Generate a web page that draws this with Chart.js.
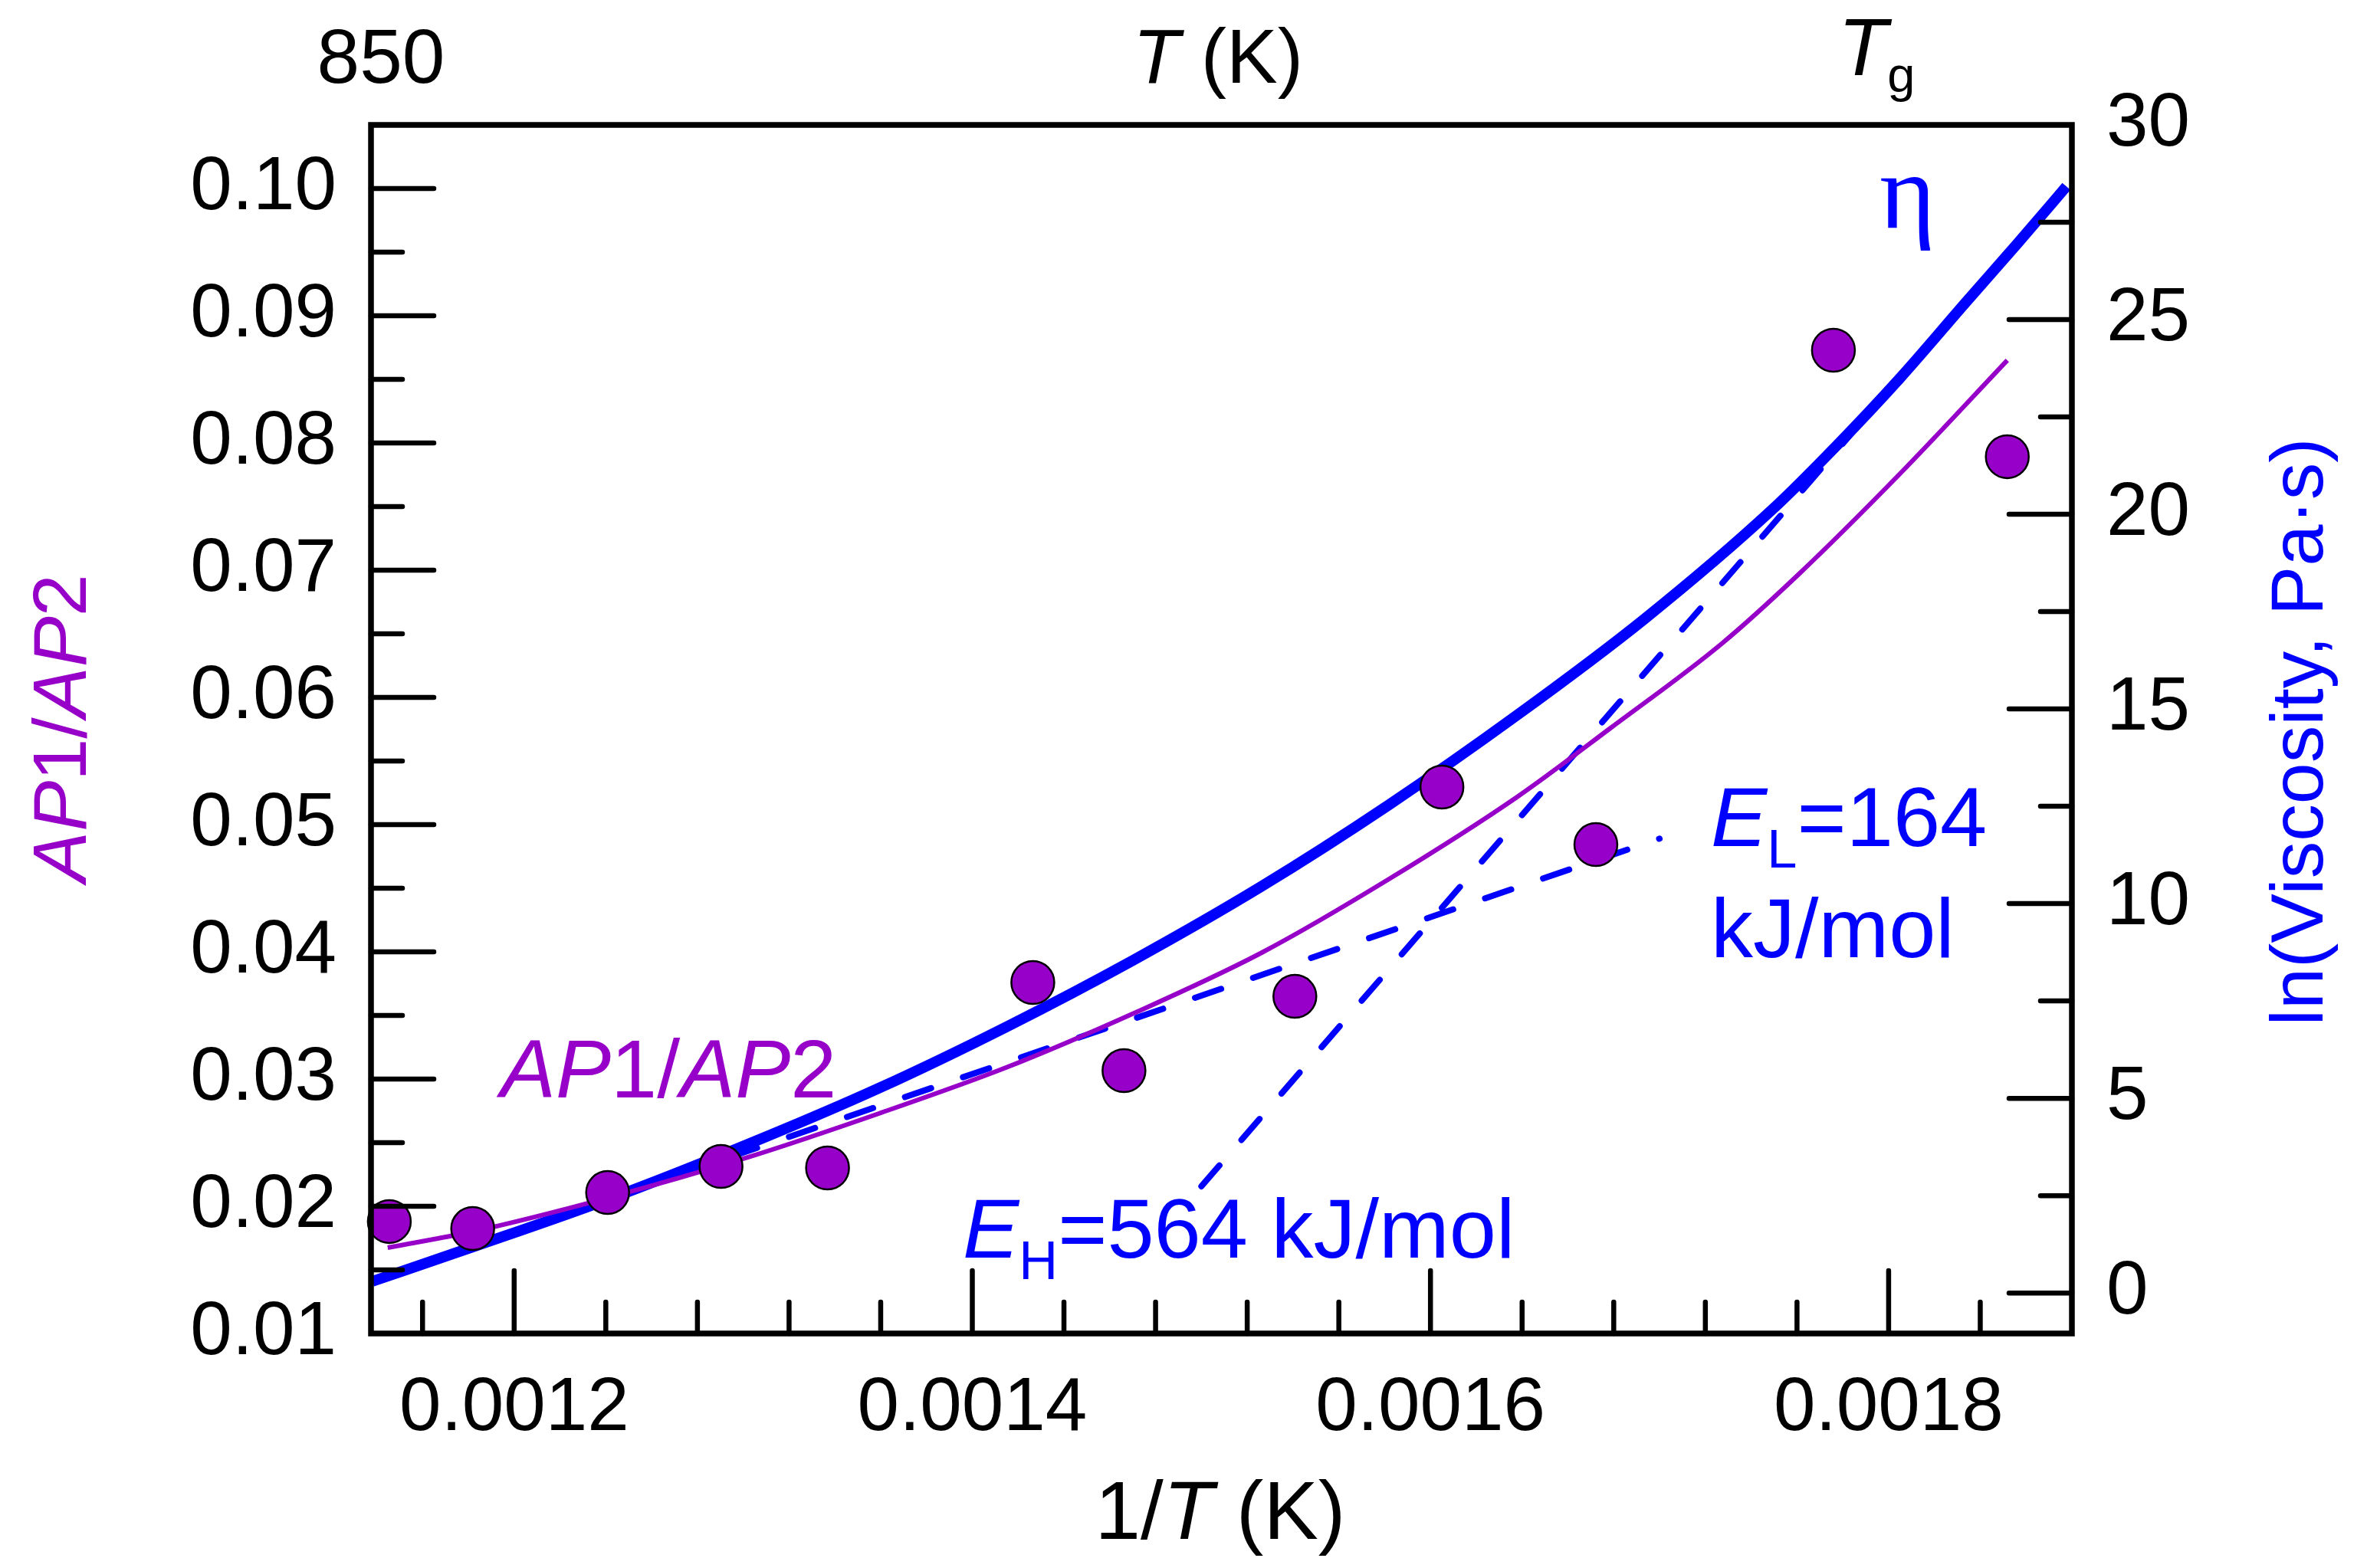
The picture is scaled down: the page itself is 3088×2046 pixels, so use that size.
<!DOCTYPE html>
<html>
<head>
<meta charset="utf-8">
<script src="https://cdn.jsdelivr.net/npm/chart.js@4.4.0/dist/chart.umd.min.js"></script>
<style>
  html, body { margin: 0; padding: 0; background: #fff; }
  canvas { display: block; }
</style>
</head>
<body>
<canvas id="chart" width="3088" height="2046"></canvas>
<script>
// measured points: 1/T and AP1/AP2 ratio
const invT = [0.0011455, 0.0011819, 0.0012408, 0.0012903, 0.0013368, 0.0014264,
              0.0014662, 0.0015408, 0.0016050, 0.0016722, 0.0017759, 0.0018518];
const apRatio = [0.0188, 0.01825, 0.02108, 0.02313, 0.02301, 0.03759,
                 0.03066, 0.0365, 0.05295, 0.04843, 0.08729, 0.07892];

// AP1/AP2 fit curve (left axis)
const apFitX = [0.0011448, 0.0011819, 0.0012408, 0.0013033, 0.0013592, 0.0014147, 0.0014706, 0.0015264,
                0.0015819, 0.0016378, 0.0016786, 0.0017271, 0.0017605, 0.0018050, 0.0018518];
const apFitY = [0.01675, 0.01801, 0.02066, 0.02392, 0.02729, 0.0309, 0.03518, 0.03994,
                0.04572, 0.05217, 0.05759, 0.06422, 0.06964, 0.07759, 0.0865];

// viscosity curve ln(eta) (right axis)
const etaFitX = [0.0011381, 0.0011819, 0.0012408, 0.0013033, 0.0013592, 0.0014147, 0.0014706, 0.0015264, 0.0015819,
                 0.0016378, 0.0016936, 0.0017492, 0.0017771, 0.0018050, 0.0018341, 0.0018562, 0.0018776];
const etaFitY = [0.30, 1.18, 2.40, 3.85, 5.26, 6.83, 8.56, 10.45, 12.54,
                 14.84, 17.32, 20.12, 21.75, 23.50, 25.47, 26.95, 28.42];

// Arrhenius lines
const eLowX = [0.00125, 0.0017];
const eLowY = [2.60, 11.67];
const eHighX = [0.0015, 0.001875];
const eHighY = [2.74, 28.29];

// axes
const xRange = [0.0011375, 0.00188];
const xStep = 0.0002, xMinor = 0.00004;
const apRange = [0.01, 0.105];
const apStep = 0.01, apMinor = 0.005;
const lnRange = [-1.04, 30];
const lnStep = 5, lnMinor = 2.5;

const PURPLE = "#9600c8";
const BLUE = "#0000ff";
const FONT = "'Liberation Sans', Arial, sans-serif";

function pairs(xs, ys) {
  return xs.map((x, i) => ({ x: x, y: ys[i] }));
}

// text made of pieces: [text, flags] with 'i' = italic, 's' = subscript
function drawRich(ctx, parts, x, y, size, color, align, subSize, subShift) {
  subSize = subSize || 0.64;
  subShift = subShift || 0.25;
  const fonts = parts.map(p => {
    const f = p[1] || "";
    const fs = f.includes("s") ? size * subSize : size;
    return (f.includes("i") ? "italic " : "") + fs + "px " + FONT;
  });
  let w = 0;
  parts.forEach((p, i) => { ctx.font = fonts[i]; w += ctx.measureText(p[0]).width; });
  let cx = align === "center" ? x - w / 2 : x;
  ctx.fillStyle = color;
  ctx.textAlign = "left";
  ctx.textBaseline = "alphabetic";
  parts.forEach((p, i) => {
    ctx.font = fonts[i];
    const dy = (p[1] || "").includes("s") ? size * subShift : 0;
    ctx.fillText(p[0], cx, y + dy);
    cx += ctx.measureText(p[0]).width;
  });
}

function eachTick(min, max, minor, major, fn) {
  const k0 = Math.ceil(min / minor - 1e-6);
  for (let k = k0; k * minor <= max + 1e-9; k++) {
    const v = k * minor;
    const r = v / major;
    fn(v, Math.abs(r - Math.round(r)) < 1e-6);
  }
}

const frameTicks = {
  id: "frameTicks",
  afterDatasetsDraw(chart) {
    const { ctx, chartArea: a, scales } = chart;
    const MAJ = 82, MIN = 41;
    ctx.save();
    ctx.strokeStyle = "#000";
    ctx.lineWidth = 6.5;
    ctx.lineCap = "round";
    ctx.beginPath();
    eachTick(xRange[0], xRange[1], xMinor, xStep, (v, big) => {
      const px = scales.x.getPixelForValue(v);
      if (px < a.left + 4 || px > a.right - 4) return;
      ctx.moveTo(px, a.bottom);
      ctx.lineTo(px, a.bottom - (big ? MAJ : MIN));
    });
    eachTick(apRange[0], apRange[1], apMinor, apStep, (v, big) => {
      const py = scales.y.getPixelForValue(v);
      if (py < a.top + 4 || py > a.bottom - 4) return;
      ctx.moveTo(a.left, py);
      ctx.lineTo(a.left + (big ? MAJ : MIN), py);
    });
    eachTick(lnRange[0], lnRange[1], lnMinor, lnStep, (v, big) => {
      const py = scales.y2.getPixelForValue(v);
      if (py < a.top + 4 || py > a.bottom - 4) return;
      ctx.moveTo(a.right, py);
      ctx.lineTo(a.right - (big ? MAJ : MIN), py);
    });
    ctx.stroke();
    ctx.lineWidth = 7.5;
    ctx.lineCap = "square";
    ctx.strokeRect(a.left, a.top, a.right - a.left, a.bottom - a.top);
    ctx.restore();
  }
};

const labels = {
  id: "labels",
  afterDraw(chart) {
    const ctx = chart.ctx;
    ctx.save();
    // top
    drawRich(ctx, [["850"]], 497, 108, 100, "#000", "center");
    drawRich(ctx, [["T", "i"], [" (K)"]], 1589, 108, 100, "#000", "center");
    drawRich(ctx, [["T", "i"], ["g", "s"]], 2398, 98, 105, "#000", "left", 0.62, 0.21);
    // bottom title
    drawRich(ctx, [["1/"], ["T", "i"], [" (K)"]], 1592, 2008, 107, "#000", "center");
    // in-plot notes
    drawRich(ctx, [["A", "i"], ["P", "i"], ["1/"], ["A", "i"], ["P", "i"], ["2"]], 653, 1432, 108, PURPLE, "left");
    drawRich(ctx, [["E", "i"], ["L", "s"], ["=164"]], 2232, 1104, 110, BLUE, "left");
    drawRich(ctx, [["kJ/mol"]], 2232, 1249, 110, BLUE, "left");
    drawRich(ctx, [["E", "i"], ["H", "s"], ["=564 kJ/mol"]], 1256, 1641, 110, BLUE, "left");
    ctx.font = "140px 'Liberation Serif', 'DejaVu Serif', serif";
    ctx.fillStyle = BLUE;
    ctx.textAlign = "left";
    ctx.fillText("\u03b7", 2452, 297);
    // rotated axis titles
    ctx.save();
    ctx.translate(112, 950);
    ctx.rotate(-Math.PI / 2);
    drawRich(ctx, [["A", "i"], ["P", "i"], ["1/"], ["A", "i"], ["P", "i"], ["2"]], 0, 0, 99, PURPLE, "center");
    ctx.restore();
    ctx.save();
    ctx.translate(3030, 955);
    ctx.rotate(-Math.PI / 2);
    drawRich(ctx, [["ln(Viscosity, Pa\u00b7s)"]], 0, 0, 97, BLUE, "center");
    ctx.restore();
    ctx.restore();
  }
};

const tickFont = { family: FONT, size: 98 };

new Chart(document.getElementById("chart"), {
  type: "scatter",
  data: {
    datasets: [
      {
        label: "AP1/AP2",
        data: pairs(invT, apRatio),
        yAxisID: "y",
        pointRadius: 28,
        pointHoverRadius: 28,
        pointBackgroundColor: PURPLE,
        pointBorderColor: "#000",
        pointBorderWidth: 2.5,
        clip: false,
        order: 0
      },
      {
        label: "AP1/AP2 fit",
        data: pairs(apFitX, apFitY),
        yAxisID: "y",
        showLine: true,
        borderColor: PURPLE,
        borderWidth: 6,
        pointRadius: 0,
        cubicInterpolationMode: "monotone",
        order: 1
      },
      {
        label: "eta",
        data: pairs(etaFitX, etaFitY),
        yAxisID: "y2",
        showLine: true,
        borderColor: BLUE,
        borderWidth: 14,
        pointRadius: 0,
        cubicInterpolationMode: "monotone",
        order: 2
      },
      {
        label: "E_L",
        data: pairs(eLowX, eLowY),
        yAxisID: "y2",
        showLine: true,
        borderColor: BLUE,
        borderWidth: 8,
        borderDash: [36, 44],
        borderDashOffset: 19,
        borderCapStyle: "round",
        pointRadius: 0,
        order: 3
      },
      {
        label: "E_H",
        data: pairs(eHighX, eHighY),
        yAxisID: "y2",
        showLine: true,
        borderColor: BLUE,
        borderWidth: 8,
        borderDash: [36, 44],
        borderCapStyle: "round",
        pointRadius: 0,
        order: 3
      }
    ]
  },
  options: {
    responsive: false,
    animation: false,
    devicePixelRatio: 1,
    events: [],
    layout: { padding: { top: 163, left: 0, right: 0, bottom: 0 } },
    plugins: { legend: { display: false }, tooltip: { enabled: false } },
    scales: {
      x: {
        type: "linear",
        position: "bottom",
        min: xRange[0],
        max: xRange[1],
        grid: { display: false, drawTicks: false },
        border: { display: false },
        ticks: {
          stepSize: xStep,
          includeBounds: false,
          autoSkip: false,
          maxRotation: 0,
          padding: 40,
          color: "#000",
          font: tickFont,
          callback: v => v.toFixed(4)
        },
        afterFit: s => { s.height = 306; }
      },
      y: {
        type: "linear",
        position: "left",
        min: apRange[0],
        max: apRange[1],
        grid: { display: false, drawTicks: false },
        border: { display: false },
        ticks: {
          stepSize: apStep,
          includeBounds: false,
          padding: 45,
          color: "#000",
          font: tickFont,
          callback: v => v.toFixed(2)
        },
        afterFit: s => { s.width = 484; }
      },
      y2: {
        type: "linear",
        position: "right",
        min: lnRange[0],
        max: lnRange[1],
        grid: { display: false, drawTicks: false },
        border: { display: false },
        ticks: {
          stepSize: lnStep,
          includeBounds: false,
          padding: 45,
          color: "#000",
          font: tickFont,
          callback: v => String(Math.round(v))
        },
        afterFit: s => { s.width = 385; }
      }
    }
  },
  plugins: [frameTicks, labels]
});
</script>
</body>
</html>
